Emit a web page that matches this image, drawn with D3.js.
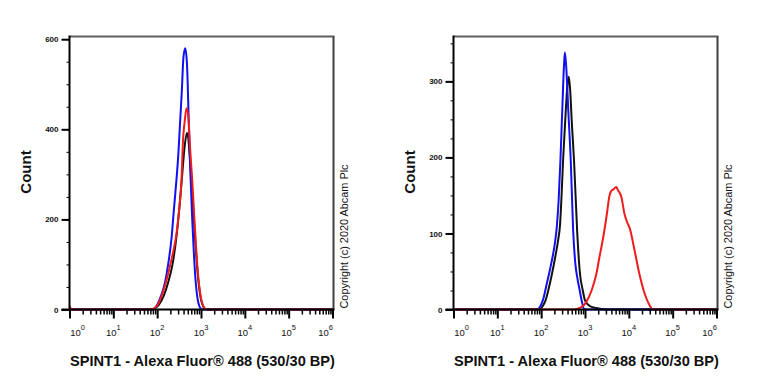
<!DOCTYPE html>
<html lang="en">
<head>
<meta charset="utf-8" />
<title>SPINT1 - Alexa Fluor 488 histograms</title>
<script src="https://cdnjs.cloudflare.com/ajax/libs/d3/7.8.5/d3.min.js"></script>
<style>
  body { margin: 0; background: #fff; }
  svg { display: block; font-family: Arial, "Liberation Sans", sans-serif; }
</style>
</head>
<body>
<script>
  /*************************** Data ***************************/

  var xDecades = [1, 10, 100, 1e3, 1e4, 1e5, 1e6];
  var xExponents = ["0", "1", "2", "3", "4", "5", "6"];

  var leftYTicks = [0, 200, 400, 600];
  var rightYTicks = [0, 100, 200, 300];

  var xLabel = "SPINT1 - Alexa Fluor\u00ae 488 (530/30 BP)";
  var yLabel = "Count";
  var copyright = "Copyright (c) 2020 Abcam Plc";

  // [intensity, count]
  var leftBlue = [[1, 0], [71, 0], [85, 2], [100, 10], [120, 28], [151, 60], [178, 100],
    [214, 161], [240, 220], [275, 287], [302, 340], [331, 410], [363, 480], [398, 560],
    [437, 580], [479, 545], [525, 420], [575, 300], [631, 200], [692, 120], [759, 60],
    [832, 25], [912, 8], [1047, 0], [1e6, 0]];

  var leftRed = [[1, 8], [1.15, 0], [76, 0], [89, 4], [105, 12], [126, 30], [158, 60],
    [200, 100], [240, 135], [269, 161], [316, 220], [359, 287], [389, 376], [427, 420],
    [468, 447], [513, 430], [562, 360], [631, 287], [708, 200], [794, 120], [891, 60],
    [1000, 25], [1148, 6], [1318, 0], [1e6, 0]];

  var leftBlack = [[1, 0], [79, 0], [93, 4], [112, 12], [141, 30], [178, 60], [224, 100],
    [282, 170], [331, 240], [380, 310], [427, 365], [479, 392], [513, 380], [562, 330],
    [631, 260], [708, 180], [794, 110], [891, 55], [1000, 22], [1148, 5], [1318, 0], [1e6, 0]];

  var rightBlue = [[1, 0], [79, 0], [93, 3], [112, 14], [132, 32], [158, 52], [186, 72],
    [209, 90], [230, 112], [251, 145], [275, 196], [302, 260], [331, 320], [347, 338],
    [372, 320], [417, 260], [473, 196], [537, 104], [603, 60], [676, 40], [759, 25],
    [851, 10], [977, 0], [1e6, 0]];

  var rightBlack = [[1, 0], [89, 0], [107, 4], [126, 12], [145, 25], [178, 48], [214, 72],
    [245, 92], [270, 112], [292, 150], [316, 196], [355, 250], [398, 295], [427, 306],
    [457, 290], [501, 245], [562, 196], [661, 104], [759, 50], [891, 25], [1000, 12],
    [1259, 5], [1778, 2], [3162, 0], [1e6, 0]];

  var rightRed = [[1, 0], [562, 0], [832, 3], [1072, 10], [1413, 25], [1820, 47],
    [2138, 69], [2570, 93], [3090, 122], [3631, 150], [3981, 156], [4467, 158],
    [5129, 161], [5623, 157], [6761, 148], [7943, 126], [9120, 115], [10470, 107],
    [13490, 78], [17380, 47], [22910, 21], [29510, 6], [35480, 0], [1e6, 0]];

  /*************************** Layout ***************************/

  var W = 768, H = 384;
  var plot = { left: 69.5, right: 333.5, top: 36.5, bottom: 309.5 };

  var panels = [
    { dx: 0, yMax: 606, yTicks: leftYTicks, minorStep: 50,
      series: [{ d: leftBlack, c: "#111" }, { d: leftBlue, c: "#1010f0" }, { d: leftRed, c: "#ee1c1c" }] },
    { dx: 384, yMax: 359, yTicks: rightYTicks, minorStep: 25,
      series: [{ d: rightBlack, c: "#111" }, { d: rightBlue, c: "#1010f0" }, { d: rightRed, c: "#ee1c1c" }] }
  ];

  var svg = d3.select("body").append("svg").attr("width", W).attr("height", H);

  var x = d3.scaleLog().domain([1, 1e6]).range([plot.left, plot.right - 1]);

  var xMinor = [];
  xDecades.slice(0, -1).forEach(function (d) {
    for (var k = 2; k < 10; k++) xMinor.push(d * k);
  });

  panels.forEach(function (p) {
    var g = svg.append("g").attr("transform", "translate(" + p.dx + ",0)");
    var y = d3.scaleLinear().domain([0, p.yMax]).range([plot.bottom, plot.top]);

    // frame top/right
    g.append("line").attr("x1", plot.left).attr("x2", plot.right + 1)
      .attr("y1", plot.top).attr("y2", plot.top)
      .attr("stroke", "#606060").attr("stroke-width", 2);
    g.append("line").attr("x1", plot.right).attr("x2", plot.right)
      .attr("y1", plot.top).attr("y2", plot.bottom)
      .attr("stroke", "#404040").attr("stroke-width", 2);

    // curves
    var line = d3.line()
      .x(function (d) { return x(d[0]); })
      .y(function (d) { return y(d[1]); })
      .curve(d3.curveMonotoneX);
    p.series.forEach(function (s) {
      g.append("path").datum(s.d).attr("d", line)
        .attr("fill", "none").attr("stroke", s.c).attr("stroke-width", 2)
        .attr("stroke-linejoin", "round");
    });

    // y axis
    var yMinor = d3.range(0, p.yMax, p.minorStep);
    g.append("g").attr("transform", "translate(" + plot.left + ",0)")
      .call(d3.axisLeft(y).tickValues(yMinor).tickSize(3).tickFormat(""))
      .call(function (a) {
        a.select(".domain").remove();
        a.selectAll("line").attr("stroke", "#000").attr("stroke-width", 1);
      });
    g.append("g").attr("transform", "translate(" + plot.left + ",0)")
      .call(d3.axisLeft(y).tickValues(p.yTicks).tickSize(8).tickSizeOuter(0).tickPadding(3))
      .call(function (a) {
        a.select(".domain").attr("stroke", "#000").attr("stroke-width", 2)
          .attr("d", "M0," + (plot.top - 1) + "V" + (plot.bottom + 1));
        a.selectAll(".tick line").attr("stroke", "#000").attr("stroke-width", 2);
        a.selectAll("text").attr("font-size", 8).attr("font-weight", "bold")
          .attr("font-family", "Arial, 'Liberation Sans', sans-serif").attr("fill", "#111");
      });

    // x axis
    g.append("g").attr("transform", "translate(0," + plot.bottom + ")")
      .call(d3.axisBottom(x).tickValues(xMinor).tickSize(5).tickFormat(""))
      .call(function (a) {
        a.select(".domain").remove();
        a.selectAll("line").attr("stroke", "#000").attr("stroke-width", 1.5);
      });
    g.append("g").attr("transform", "translate(0," + plot.bottom + ")")
      .call(d3.axisBottom(x).tickValues(xDecades).tickSize(9).tickSizeOuter(0).tickFormat(""))
      .call(function (a) {
        a.select(".domain").attr("stroke", "#000").attr("stroke-width", 2)
          .attr("d", "M" + (plot.left - 8) + ",0H" + (plot.right + 1));
        a.selectAll(".tick line").attr("stroke", "#000").attr("stroke-width", 2);
      });

    // x tick labels 10^n
    xDecades.forEach(function (d, i) {
      var shift = i === 0 ? 8 : (i === xDecades.length - 1 ? -7 : 0);
      var t = g.append("text").attr("x", x(d) + shift).attr("y", 336)
        .attr("text-anchor", "middle").attr("font-size", 9.5).attr("fill", "#111");
      t.append("tspan").text("10");
      t.append("tspan").attr("dy", -6).attr("font-size", 7.5).text(xExponents[i]);
    });

    // titles
    g.append("text").attr("x", (plot.left + plot.right) / 2 + 1).attr("y", 366)
      .attr("text-anchor", "middle").attr("font-size", 14.6).attr("font-weight", "bold")
      .attr("fill", "#111").text(xLabel);
    g.append("text").attr("transform", "translate(31,172) rotate(-90)")
      .attr("text-anchor", "middle").attr("font-size", 15).attr("font-weight", "bold")
      .attr("fill", "#111").text(yLabel);
    g.append("text").attr("transform", "translate(347.5,236.5) rotate(-90)")
      .attr("text-anchor", "middle").attr("font-size", 10.9)
      .attr("fill", "#111").text(copyright);
  });
</script>
</body>
</html>
